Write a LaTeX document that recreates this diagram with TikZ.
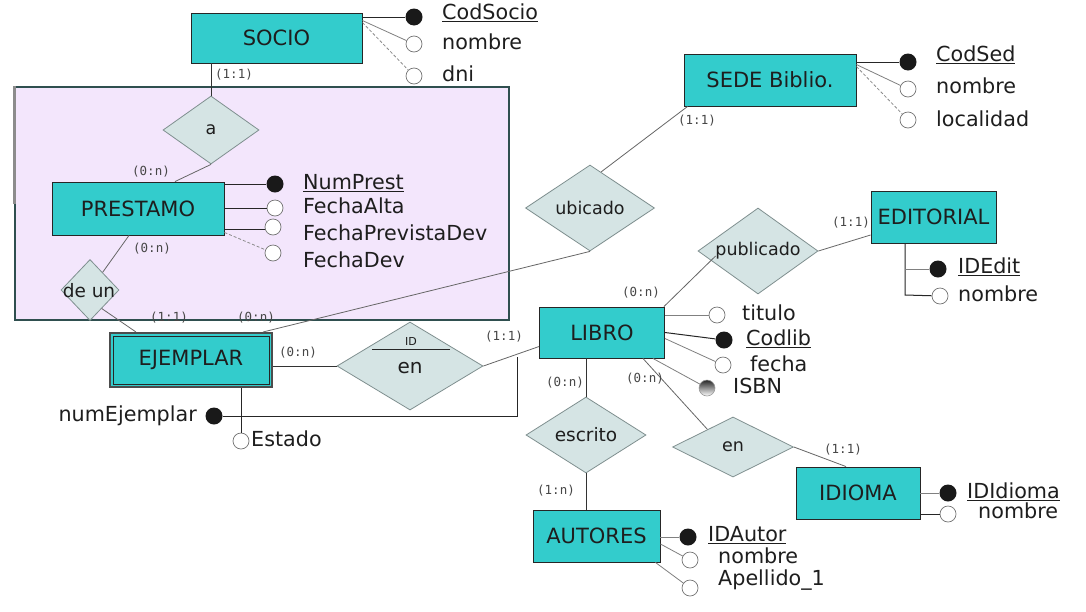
\documentclass[tikz,border=0pt]{standalone}
\usepackage{fontspec}
\setmainfont{DejaVu Sans}
\newfontfamily\monof{DejaVu Sans Mono}
\usetikzlibrary{shapes.geometric,calc}
\definecolor{entc}{HTML}{33CCCC}
\definecolor{relc}{HTML}{D5E4E4}
\definecolor{relb}{HTML}{7F8F8F}
\definecolor{purp}{HTML}{F3E6FC}
\definecolor{purpb}{HTML}{2F4F4F}
\definecolor{txt}{HTML}{1E1E1E}
\definecolor{lnc}{HTML}{666666}
\begin{document}
\begin{tikzpicture}[x=1pt,y=-1pt,
  ent/.style={draw=black!85, line width=0.9pt, fill=entc, inner sep=0, font=\fontsize{21}{25}\selectfont, text=txt},
  rel/.style={diamond, draw=relb, fill=relc, line width=0.8pt, inner sep=0, aspect=1},
  rtxt/.style={font=\fontsize{17.5}{20}\selectfont, text=txt, inner sep=0},
  atxt/.style={anchor=west, font=\fontsize{20.7}{24}\selectfont, text=txt, inner sep=0, text height=15pt, text depth=4pt},
  card/.style={font=\monof\fontsize{12.5}{14}\selectfont, text=black!72, inner sep=0},
  keyc/.style={circle, fill=black!90, minimum size=17pt, inner sep=0},
  optc/.style={circle, draw=black!55, fill=white, minimum size=16pt, inner sep=0, line width=0.7pt},
  rl/.style={draw=lnc, line width=0.8pt},
  kl/.style={draw=black!85, line width=1pt},
  al/.style={draw=black!50, line width=0.8pt},
  dl/.style={draw=black!45, line width=0.8pt, dash pattern=on 3pt off 2pt},
]
\fill[white] (0,0) rectangle (1086,611);
\useasboundingbox (0,0) rectangle (1086,611);

% aggregation box
\node[draw=purpb, fill=purp, line width=1.2pt, minimum width=494pt, minimum height=233pt, inner sep=0] (agg) at (262,203.5) {};
\draw[black!45, line width=2.5pt] (agg.north west) -- ([yshift=-118pt]agg.north west);

% entities
\node[ent, minimum width=171pt, minimum height=50pt] (socio) at (276.5,38) {SOCIO};
\node[ent, minimum width=172pt, minimum height=53pt] (prestamo) at (138,208.5) {PRESTAMO};
\node[ent, minimum width=172pt, minimum height=52pt] (sede) at (770,80) {SEDE Biblio.};
\node[ent, minimum width=125pt, minimum height=52pt] (editorial) at (933.5,217) {EDITORIAL};
\node[ent, minimum width=125pt, minimum height=51pt] (libro) at (602,332.5) {LIBRO};
\node[ent, minimum width=162pt, minimum height=54pt, draw=black!70, line width=2pt] (ejemplar) at (191,360) {EJEMPLAR};
\draw[black!85, line width=1pt] ([shift={(4pt,4pt)}]ejemplar.south west) rectangle ([shift={(-4pt,-4pt)}]ejemplar.north east);
\node[ent, minimum width=124pt, minimum height=52pt] (idioma) at (858,493) {IDIOMA};
\node[ent, minimum width=127pt, minimum height=52pt] (autores) at (596.5,536) {AUTORES};

% relationships
\node[rel, minimum width=96pt, minimum height=68pt] (a) at (211,130) {};
\node[rel, minimum width=58pt, minimum height=61pt] (deun) at (90,290) {};
\node[rel, minimum width=129pt, minimum height=86pt] (ubicado) at (590,208) {};
\node[rel, minimum width=120pt, minimum height=86pt] (publicado) at (758,251) {};
\node[rel, minimum width=146pt, minimum height=88pt] (enid) at (410,366) {};
\node[rel, minimum width=120pt, minimum height=76pt] (escrito) at (586,435) {};
\node[rel, minimum width=121pt, minimum height=60pt] (en) at (733,447) {};

\node[rtxt] (ta) at (a) {a};
\node[rtxt, font=\fontsize{18.5}{20}\selectfont] (tdeun) at (89,291) {de un};
\node[rtxt] (tubicado) at (ubicado) {ubicado};
\node[rtxt] (tpublicado) at (publicado) {publicado};
\node[rtxt, font=\fontsize{18.5}{20}\selectfont] (tescrito) at (escrito) {escrito};
\node[rtxt] (ten) at (en) {en};
\node[font=\fontsize{11}{13}\selectfont, text=txt, inner sep=0] (tid) at (411,341) {ID};
\coordinate (idl) at (372,349);
\coordinate (idr) at (450,349);
\draw[black!85, line width=0.9pt] (idl) -- (idr);
\node[font=\fontsize{20}{24}\selectfont, text=txt, inner sep=0] (tenid) at (410,368) {en};

% relationship connectors
\draw[draw=black!80, line width=0.9pt] (a.north) -- (a.north |- socio.south);
\draw[rl] (a.south) -- ([xshift=37pt]prestamo.north);
\draw[rl] ([xshift=-9pt]prestamo.south) -- (deun);
\draw[rl] ($(deun.east)!0.6!(deun.south)$) -- ([xshift=27pt]ejemplar.north west);
\draw[rl] ([xshift=-10pt]ejemplar.north east) -- (ubicado.south);
\draw[rl] ($(ubicado.north)!0.17!(ubicado.east)$) -- ([xshift=4pt]sede.south west);
\draw[rl] ([xshift=-1pt]libro.north east) -- ($(publicado.west)+(18pt,-5pt)$);
\draw[rl] (publicado.east) -- ([yshift=-18pt]editorial.west);
\draw[draw=black!80, line width=0.9pt] (enid.west -| ejemplar.east) -- (enid.west);
\draw[rl] (enid.east) -- ([yshift=-14pt]libro.west);
\draw[draw=black!80, line width=0.9pt] (libro.south -| escrito.north) -- (escrito.north);
\draw[rl] ([xshift=-22pt]libro.south east) -- ($(en.west)!0.58!(en.north)$);
\draw[rl] (en.east) -- ([xshift=-12pt]idioma.north);
\draw[draw=black!80, line width=0.9pt] (escrito.south) -- (escrito.south |- autores.north);

% EJEMPLAR attributes
\node[keyc] (cnum) at (214,416) {};
\node[atxt, anchor=east] (tnum) at (197,416) {numEjemplar};
\coordinate (ncorner) at (517,416);
\coordinate (ntop) at (517,357);
\draw[kl, line width=0.9pt] (cnum) -- (ncorner) -- (ntop);
\node[optc] (cest) at (241,441) {};
\draw[kl, line width=0.9pt] (ejemplar.south -| cest) -- (cest);
\node[atxt] (test) at (251,441) {Estado};

% SOCIO attributes
\node[keyc] (cs1) at (414,17) {};
\node[optc] (cs2) at (414,44) {};
\node[optc] (cs3) at (414,76) {};
\draw[kl] (cs1 -| socio.east) -- (cs1);
\draw[al] ([yshift=-8pt]socio.north east) -- (cs2);
\draw[dl] ([yshift=-10pt]socio.north east) -- (cs3);
\node[atxt] (ts1) at (442,14) {\underline{CodSocio}};
\node[atxt] (ts2) at (442,44) {nombre};
\node[atxt] (ts3) at (442,76) {dni};

% PRESTAMO attributes
\node[keyc] (cp1) at (275,184) {};
\node[optc] (cp2) at (275,208) {};
\node[optc] (cp3) at (273,227) {};
\node[optc] (cp4) at (273,253) {};
\draw[kl] (cp1 -| prestamo.east) -- (cp1);
\draw[kl] (cp2 -| prestamo.east) -- (cp2);
\draw[kl] ([yshift=-2pt]cp3 -| prestamo.east) -- ([yshift=-2pt]cp3.west);
\draw[dl] ([yshift=3pt]prestamo.south east) -- (cp4);
\node[atxt] (tp1) at (303,184) {\underline{NumPrest}};
\node[atxt] (tp2) at (303,208) {FechaAlta};
\node[atxt] (tp3) at (303,235) {FechaPrevistaDev};
\node[atxt] (tp4) at (303,262) {FechaDev};

% SEDE attributes
\node[keyc] (cd1) at (908,62) {};
\node[optc] (cd2) at (908,89) {};
\node[optc] (cd3) at (908,120) {};
\draw[kl] (cd1 -| sede.east) -- (cd1);
\draw[al] ([yshift=-11pt]sede.north east) -- (cd2);
\draw[dl] ([yshift=-13pt]sede.north east) -- (cd3);
\node[atxt] (td1) at (936,56) {\underline{CodSed}};
\node[atxt] (td2) at (936,88) {nombre};
\node[atxt] (td3) at (936,121) {localidad};

% EDITORIAL attributes
\coordinate (ev1) at (905,269);
\coordinate (ev2) at (905,295);
\node[keyc] (ce1) at (938,269) {};
\node[optc] (ce2) at (940,296) {};
\draw[kl] (editorial.south -| ev1) -- (ev2) -- (ce2);
\draw[al] (ev1) -- (ce1);
\node[atxt] (te1) at (958,268) {\underline{IDEdit}};
\node[atxt] (te2) at (958,296) {nombre};

% LIBRO attributes
\node[optc] (cl1) at (717,315) {};
\node[keyc] (cl2) at (724,340) {};
\node[optc] (cl3) at (723,365) {};
\node[circle, minimum size=16pt, inner sep=0, top color=black!85, bottom color=white, draw=black!40, line width=0.6pt] (cl4) at (707,388) {};
\draw[al] (cl1 -| libro.east) -- (cl1);
\draw[kl] (libro.east) -- (cl2);
\draw[al] ([yshift=-6pt]libro.east) -- (cl3);
\draw[al] ([xshift=-12pt]libro.south east) -- (cl4);
\node[atxt] (tl1) at (742,315) {titulo};
\node[atxt] (tl2) at (746,340) {\underline{Codlib}};
\node[atxt] (tl3) at (750,366) {fecha};
\node[atxt] (tl4) at (733,388) {ISBN};

% IDIOMA attributes
\node[keyc] (ci1) at (948,493) {};
\node[optc] (ci2) at (948,514) {};
\draw[al] (ci1 -| idioma.east) -- (ci1);
\draw[kl] (ci2 -| idioma.east) -- (ci2);
\node[atxt] (ti1) at (967,493) {\underline{IDIdioma}};
\node[atxt] (ti2) at (978,513) {nombre};

% AUTORES attributes
\node[keyc] (ca1) at (688,537) {};
\node[optc] (ca2) at (690,560) {};
\node[optc] (ca3) at (690,588) {};
\draw[al] (ca1 -| autores.east) -- (ca1);
\draw[al] ([yshift=-8pt]autores.east) -- (ca2);
\draw[al] ([xshift=-5pt]autores.south east) -- (ca3);
\node[atxt] (ta1) at (708,536) {\underline{IDAutor}};
\node[atxt] (ta2) at (718,558) {nombre};
\node[atxt] (ta3) at (718,580) {Apellido\_1};

% cardinalities
\node[card] (k1) at (234,75) {(1:1)};
\node[card] (k2) at (151,172) {(0:n)};
\node[card] (k3) at (152,249) {(0:n)};
\node[card] (k4) at (169,318) {(1:1)};
\node[card] (k5) at (256,318) {(0:n)};
\node[card] (k6) at (298,353) {(0:n)};
\node[card] (k7) at (504,337) {(1:1)};
\node[card] (k8) at (697,121) {(1:1)};
\node[card] (k9) at (641,293) {(0:n)};
\node[card] (k10) at (851,223) {(1:1)};
\node[card] (k11) at (565,383) {(0:n)};
\node[card] (k12) at (645,379) {(0:n)};
\node[card] (k13) at (843,450) {(1:1)};
\node[card] (k14) at (556,491) {(1:n)};
\end{tikzpicture}
\end{document}
